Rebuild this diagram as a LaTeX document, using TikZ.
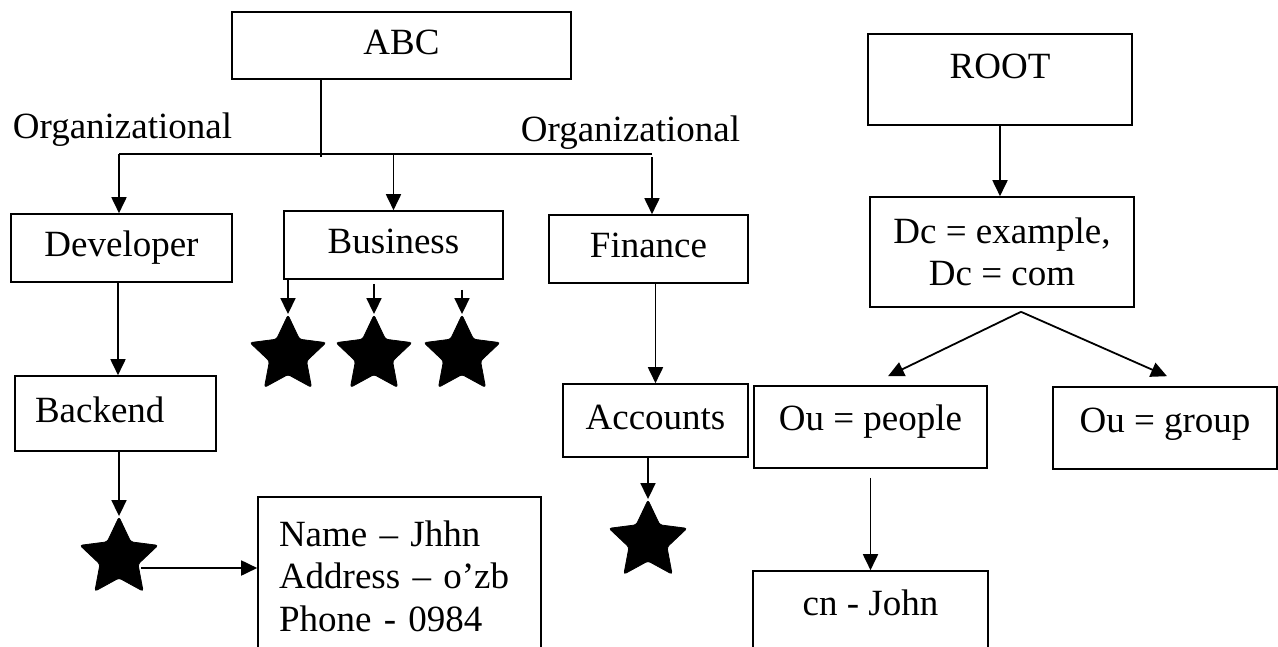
\documentclass[tikz,border=0pt]{standalone}
\usepackage{fontspec}
\setmainfont{Liberation Serif}
\usetikzlibrary{shapes.geometric,arrows.meta}
\tikzset{
  every node/.style={font=\fontsize{37}{42.5}\selectfont},
  box/.style={draw, line width=1.6pt, rectangle, inner sep=0pt},
  one/.style={text height=25pt, text depth=8pt},
  lab/.style={inner sep=0pt},
  starnode/.style={star, star points=5, star point ratio=2.05, fill=black, draw=black, line width=0.8pt, rounded corners=2.5pt, inner sep=0pt, minimum size=#1},
  arr/.style={line width=1.8pt, -{Triangle[length=16pt,width=15pt]}},
  ln/.style={line width=1.8pt},
}
\begin{document}
\begin{tikzpicture}[x=1pt,y=-1pt]
\clip (0,0) rectangle (1278,646);
% left tree
\node[box,one,minimum width=339pt,minimum height=67pt] (abc) at (401.5,45.5) {ABC};
\node[lab] (org1) at (122.5,129.5) {Organizational};
\node[lab] (org2) at (630.5,133) {Organizational};
\coordinate (j) at (321,154);
\coordinate (hl) at (119,154);
\coordinate (hr) at (652,154);
\node[box,one,minimum width=221pt,minimum height=68pt] (dev) at (121.5,248) {Developer};
\node[box,one,minimum width=219pt,minimum height=68pt] (bus) at (393.5,245) {Business};
\node[box,one,minimum width=199pt,minimum height=68pt] (fin) at (648.5,249) {Finance};
\node[box,one,minimum width=201pt,minimum height=75pt,align=left,text width=161pt,inner xsep=20pt] (back) at (115.5,413.5) {Backend};
\node[box,one,minimum width=185pt,minimum height=73pt] (acc) at (655.5,420.5) {Accounts};
\node[starnode=80pt] (st1) at (288,355) {};
\node[starnode=80pt] (st2) at (374,355) {};
\node[starnode=80pt] (st3) at (462,355) {};
\node[starnode=82pt] (st4) at (119,558) {};
\node[starnode=82pt] (st5) at (648,541) {};
\node[box,minimum width=283pt,minimum height=158pt,align=left,text width=241pt,inner xsep=21pt] (info) at (399.5,576) {Name – Jhhn\\Address – o’zb\\Phone - 0984};
% left connectors
\draw[ln] (abc.south -| j) -- ([yshift=-3pt]j);
\draw[ln] (hl) -- (hr);
\draw[arr] (hl) -- (hl |- dev.north);
\draw[arr] (j -| bus.north) -- (bus.north);
\draw[arr] ([yshift=-3pt]hr) -- (hr |- fin.north);
\draw[arr] ([xshift=-3.5pt]dev.south) -- ([xshift=-3.5pt]dev.south |- back.north);
\draw[arr] (back.south -| st4.north) -- (st4.north);
\draw[arr] (bus.south -| st1.north) -- (st1.north);
\draw[arr] ([yshift=-4pt]bus.south -| st2.north) -- (st2.north);
\draw[arr] ([yshift=-10pt]bus.south -| st3.north) -- (st3.north);
\draw[arr] (acc.north |- fin.south) -- (acc.north);
\draw[arr] (acc.south -| st5.north) -- (st5.north);
\coordinate (sa) at ([shift={(22,10)}]st4.center);
\draw[arr] (sa) -- (sa -| info.west);
% right tree
\node[box,minimum width=264pt,minimum height=91pt,text height=20pt,text depth=23pt] (root) at (1000,79.5) {ROOT};
\node[box,minimum width=264pt,minimum height=110pt,align=center] (dc) at (1002,252) {Dc = example,\\Dc = com};
\node[box,minimum width=233pt,minimum height=82pt,text height=20pt,text depth=14pt] (people) at (870.5,427) {Ou = people};
\node[box,minimum width=224pt,minimum height=82pt,text height=20pt,text depth=12pt] (group) at (1165,428) {Ou = group};
\node[box,minimum width=235pt,minimum height=118pt,text height=5pt,text depth=35pt] (cn) at (870.5,630) {cn - John};
\draw[arr] (root.south) -- (root.south |- dc.north);
\coordinate (br) at ([shift={(19,4)}]dc.south);
\draw[arr] (br) -- ([shift={(17.5,-9)}]people.north);
\draw[arr] (br) -- ([shift={(2,-10)}]group.north);
\draw[arr] ([yshift=-9pt]people.south) -- (people.south |- cn.north);
\end{tikzpicture}
\end{document}
